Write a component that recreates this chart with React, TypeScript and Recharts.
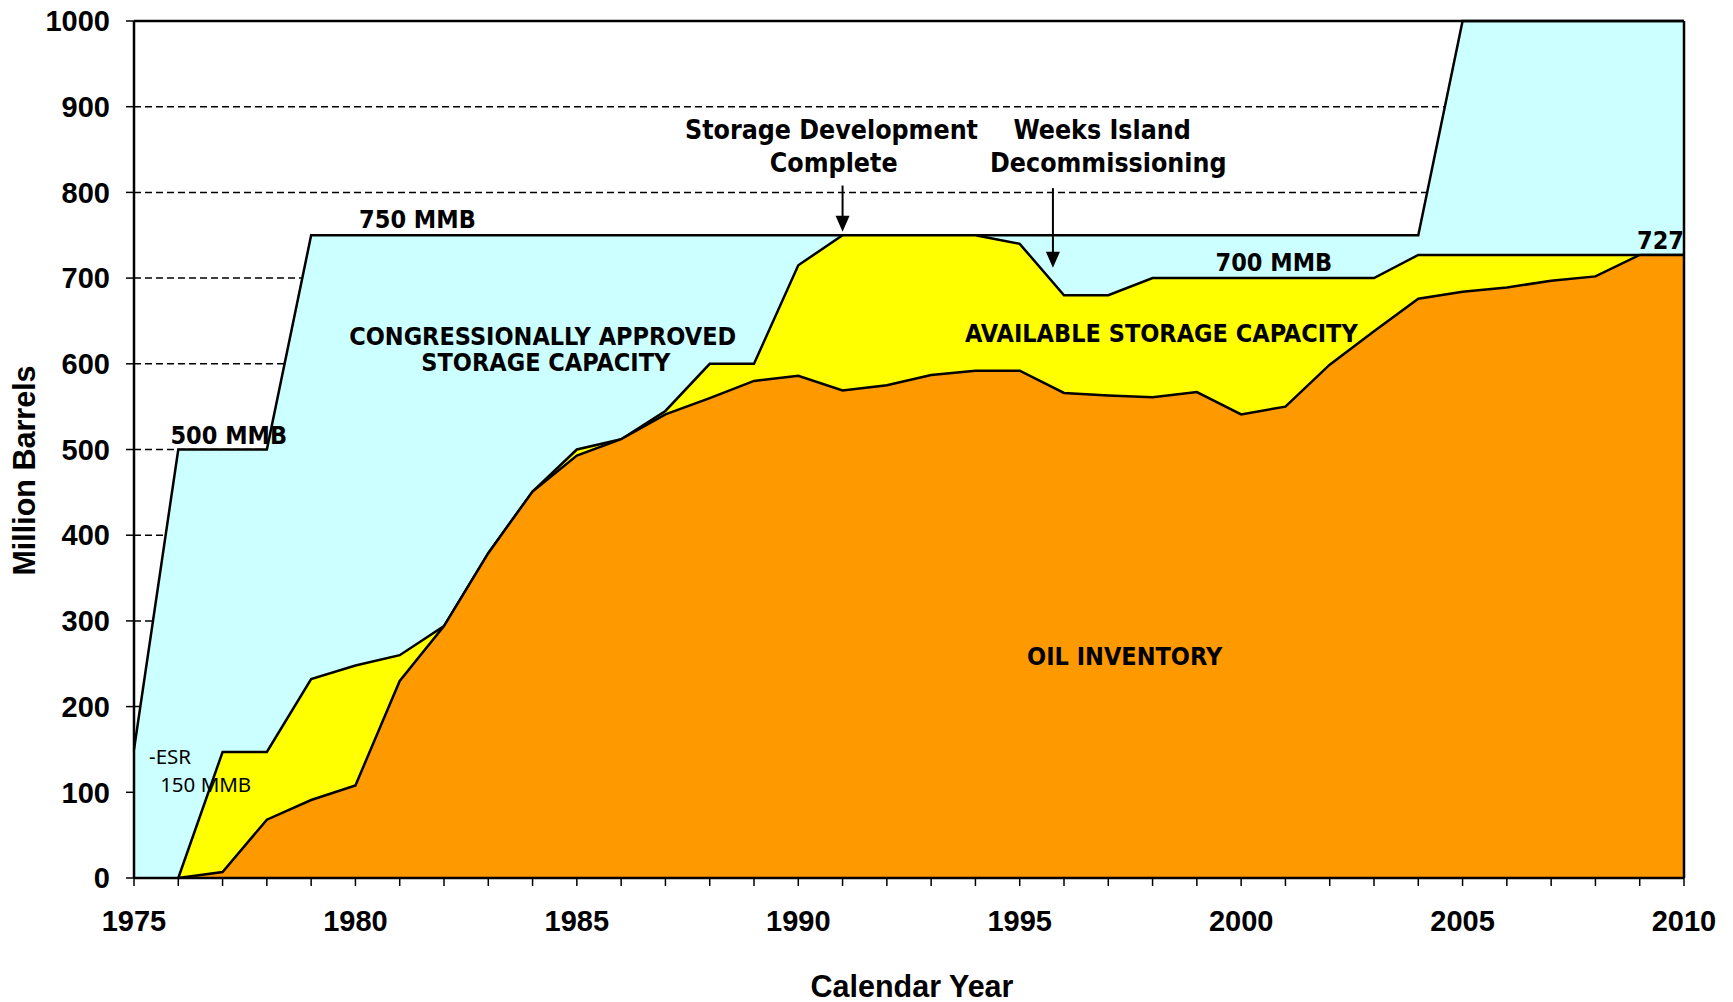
import { AreaChart, Area, XAxis, YAxis, CartesianGrid, ReferenceLine, ReferenceDot } from "recharts"

const years = [
    1975, 1976, 1977, 1978, 1979, 1980, 1981, 1982, 1983, 1984, 1985, 1986,
    1987, 1988, 1989, 1990, 1991, 1992, 1993, 1994, 1995, 1996, 1997, 1998,
    1999, 2000, 2001, 2002, 2003, 2004, 2005, 2006, 2007, 2008, 2009, 2010,
]

// congressionally approved storage capacity (MMB)
const approved = [
    150, 500, 500, 500, 750, 750, 750, 750, 750, 750, 750, 750,
    750, 750, 750, 750, 750, 750, 750, 750, 750, 750, 750, 750,
    750, 750, 750, 750, 750, 750, 1000, 1000, 1000, 1000, 1000, 1000,
]

// available storage capacity (MMB)
const available = [
    null, 0, 147, 147, 232, 248, 260, 294, 379, 451, 500, 512,
    545, 600, 600, 715, 750, 750, 750, 750, 740, 680, 680, 700,
    700, 700, 700, 700, 700, 727, 727, 727, 727, 727, 727, 727,
]

// oil inventory (MMB)
const inventory = [
    null, 0, 7, 68, 91, 108, 230, 294, 379, 451, 493, 512,
    541, 560, 580, 586, 569, 575, 587, 592, 592, 566, 563, 561,
    567, 541, 550, 599, 638, 676, 684, 689, 697, 702, 727, 727,
]

const yTicks = [0, 100, 200, 300, 400, 500, 600, 700, 800, 900, 1000]

const chartData = years.map((year, i) => ({
    year,
    approved: approved[i],
    available: available[i],
    inventory: inventory[i],
}))

const noteFont = "DejaVu Sans Condensed"

const notes = [
    { x: 1990.75, y: 873, text: "Storage Development", pos: "center", size: 26.5 },
    { x: 1990.8, y: 835, text: "Complete", pos: "center", size: 26.5 },
    { x: 1996.86, y: 873, text: "Weeks Island", pos: "center", size: 26.5 },
    { x: 1997.0, y: 835, text: "Decommissioning", pos: "center", size: 26.5 },
    { x: 1981.4, y: 769, text: "750 MMB", pos: "center", size: 25 },
    { x: 1977.14, y: 517, text: "500 MMB", pos: "center", size: 25 },
    { x: 1984.23, y: 632, text: "CONGRESSIONALLY  APPROVED", pos: "center", size: 25 },
    { x: 1984.3, y: 602, text: "STORAGE CAPACITY", pos: "center", size: 25 },
    { x: 1998.2, y: 636, text: "AVAILABLE STORAGE CAPACITY", pos: "center", size: 25 },
    { x: 2000.74, y: 719, text: "700 MMB", pos: "center", size: 25 },
    { x: 2010, y: 744, text: "727", pos: "left", size: 25 },
    { x: 1997.37, y: 259, text: "OIL INVENTORY", pos: "center", size: 25 },
]

const arrows = [
    { x: 1991, top: 808, tip: 754 },
    { x: 1995.75, top: 805, tip: 712 },
]

function YearTick({ x, y, payload }: any) {
    if (payload.value % 5 !== 0) return <g />
    return (
        <text x={x} y={y} dy="0.71em" textAnchor="middle" fill="#000"
            fontSize={29} fontWeight="bold" fontFamily="Liberation Sans">
            {payload.value}
        </text>
    )
}

function YTitle({ viewBox }: any) {
    const cx = viewBox.x + 24
    const cy = viewBox.y + viewBox.height / 2 + 21
    return (
        <text x={cx} y={cy} transform={`rotate(-90 ${cx} ${cy})`} textAnchor="middle"
            dominantBaseline="central" fill="#000" fontSize={30.5} fontWeight="bold"
            fontFamily="Liberation Sans">
            Million Barrels
        </text>
    )
}

function XTitle({ viewBox }: any) {
    const cx = viewBox.x + viewBox.width / 2 + 3
    const cy = viewBox.y + 108
    return (
        <text x={cx} y={cy} textAnchor="middle" dominantBaseline="central" fill="#000"
            fontSize={30.5} fontWeight="bold" fontFamily="Liberation Sans">
            Calendar Year
        </text>
    )
}

const arrowHead = ({ cx, cy }: any) => (
    <path d={`M${cx - 7},${cy - 16} L${cx + 7},${cy - 16} L${cx},${cy} Z`} fill="#000" />
)

export default function App() {
    return (
        <div style={{ position: "absolute", left: 0, top: 0, width: 1733, height: 1002, background: "#fff" }}>
            <AreaChart
                width={1733}
                height={1002}
                data={chartData}
                margin={{ top: 21, right: 49, bottom: 0, left: 0 }}
            >
                <CartesianGrid vertical={false} stroke="#000" strokeWidth={1.5} strokeDasharray="7 4" />
                <XAxis
                    dataKey="year"
                    type="number"
                    domain={[1975, 2010]}
                    ticks={years}
                    interval={0}
                    height={124}
                    tick={<YearTick />}
                    tickSize={8}
                    tickMargin={24}
                    axisLine={{ stroke: "#000", strokeWidth: 2.5 }}
                    tickLine={{ stroke: "#000", strokeWidth: 1.5 }}
                    label={<XTitle />}
                />
                <YAxis
                    type="number"
                    domain={[0, 1000]}
                    ticks={yTicks}
                    width={134}
                    tickSize={8}
                    tickMargin={16}
                    axisLine={{ stroke: "#000", strokeWidth: 2.5 }}
                    tickLine={{ stroke: "#000", strokeWidth: 1.5 }}
                    tick={{ fill: "#000", fontSize: 29, fontWeight: "bold", fontFamily: "Liberation Sans" }}
                    label={<YTitle />}
                />
                <Area type="linear" dataKey="approved" fill="#CCFFFF" fillOpacity={1}
                    stroke="#000" strokeWidth={2.5} isAnimationActive={false} dot={false} activeDot={false} />
                <Area type="linear" dataKey="available" fill="#FFFF00" fillOpacity={1}
                    stroke="#000" strokeWidth={2.5} isAnimationActive={false} dot={false} activeDot={false} />
                <Area type="linear" dataKey="inventory" fill="#FF9900" fillOpacity={1}
                    stroke="#000" strokeWidth={2.5} isAnimationActive={false} dot={false} activeDot={false} />
                <ReferenceLine y={1000} stroke="#000" strokeWidth={2.5} />
                <ReferenceLine x={2010} stroke="#000" strokeWidth={2.5} />
                {arrows.map((a) => (
                    <ReferenceLine key={`al${a.x}`} segment={[{ x: a.x, y: a.top }, { x: a.x, y: a.tip + 10 }]}
                        stroke="#000" strokeWidth={2} />
                ))}
                {arrows.map((a) => (
                    <ReferenceDot key={`ah${a.x}`} x={a.x} y={a.tip} r={1} shape={arrowHead} />
                ))}
                {notes.map((n) => (
                    <ReferenceDot key={n.text} x={n.x} y={n.y} r={0} fill="none" stroke="none"
                        label={{
                            value: n.text, position: n.pos as any, offset: 0, fill: "#000",
                            fontSize: n.size, fontWeight: "bold", fontFamily: noteFont,
                        }} />
                ))}
                <ReferenceDot x={1975.34} y={142} r={0} fill="none" stroke="none"
                    label={{ value: "-ESR", position: "right", offset: 0, fill: "#000", fontSize: 20.5, fontFamily: "Noto Sans" }} />
                <ReferenceDot x={1975.59} y={109} r={0} fill="none" stroke="none"
                    label={{ value: "150 MMB", position: "right", offset: 0, fill: "#000", fontSize: 20.5, fontFamily: "Noto Sans" }} />
            </AreaChart>
        </div>
    )
}
